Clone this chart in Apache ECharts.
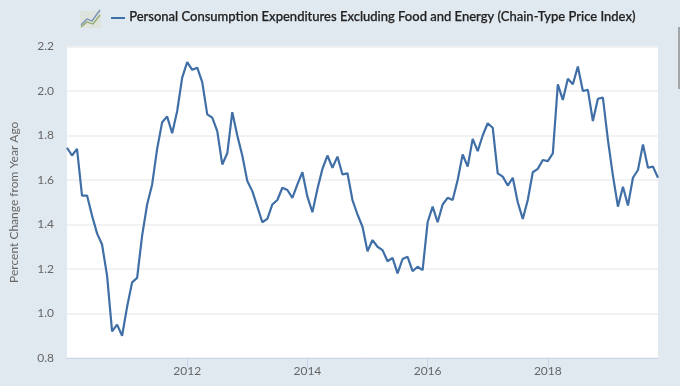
<!DOCTYPE html>
<html><head><meta charset="utf-8">
<style>html,body{margin:0;padding:0;background:#e1e9f0}#c{width:680px;height:386px}</style>
<script src="https://cdn.jsdelivr.net/npm/echarts@6/dist/echarts.min.js"></script>
</head><body><div id="c"></div>
<script>
const seriesName = 'Personal Consumption Expenditures Excluding Food and Energy (Chain-Type Price Index)';
const yAxisTitle = 'Percent Change from Year Ago';
const yearLabels = ['2012','2014','2016','2018'];
const y2010 = [1.745,1.71,1.74,1.53,1.53,1.44,1.36,1.31,1.17,0.92,0.95,0.90];
const y2011 = [1.03,1.14,1.16,1.35,1.49,1.58,1.74,1.86,1.885,1.81,1.91,2.06];
const y2012 = [2.13,2.095,2.105,2.04,1.895,1.88,1.82,1.67,1.72,1.905,1.80,1.71];
const y2013 = [1.595,1.55,1.48,1.41,1.425,1.49,1.51,1.565,1.555,1.52,1.58,1.635];
const y2014 = [1.525,1.455,1.56,1.65,1.71,1.655,1.705,1.625,1.63,1.51,1.445,1.39];
const y2015 = [1.28,1.33,1.30,1.285,1.235,1.25,1.18,1.245,1.255,1.19,1.21,1.195];
const y2016 = [1.41,1.48,1.41,1.49,1.52,1.51,1.60,1.715,1.66,1.785,1.73,1.80];
const y2017 = [1.855,1.835,1.63,1.615,1.575,1.61,1.50,1.425,1.51,1.635,1.65,1.69];
const y2018 = [1.685,1.72,2.03,1.96,2.055,2.03,2.11,2.00,2.005,1.865,1.965,1.97];
const y2019 = [1.78,1.62,1.48,1.57,1.485,1.61,1.645,1.76,1.655,1.66,1.61];
const yearly = [y2010,y2011,y2012,y2013,y2014,y2015,y2016,y2017,y2018,y2019];
const categories = [];
const values = [];
yearly.forEach((arr,i)=>arr.forEach((v,m)=>{
  categories.push((m===0 ? String(2010+i) : (2010+i)+'-'+(m+1)));
  values.push(v);
}));
const showTick = (idx,val)=>yearLabels.includes(val);
const chart = echarts.init(document.getElementById('c'),null,{renderer:'canvas'});
const font = 'Lato, "Open Sans", sans-serif';
chart.setOption({
  animation:false,
  backgroundColor:'#e1e9f0',
  grid:{left:66,right:22,top:46.5,bottom:28,backgroundColor:'#fff',show:true,borderWidth:0},
  xAxis:{type:'category',data:categories,boundaryGap:false,
    axisLine:{show:true,lineStyle:{color:'#ccd6eb',width:1}},
    axisTick:{show:true,interval:showTick,length:10,lineStyle:{color:'#ccd6eb'},inside:false},
    axisLabel:{interval:showTick,color:'#666',fontFamily:font,fontSize:12,margin:7},
    splitLine:{show:false}},
  yAxis:{type:'value',min:0.8,max:2.2,interval:0.2,
    name:yAxisTitle,nameLocation:'middle',nameGap:47,
    nameTextStyle:{color:'#666',fontFamily:font,fontSize:12},
    axisLine:{show:false},axisTick:{show:false},
    axisLabel:{color:'#666',fontFamily:font,fontSize:12,margin:13,formatter:v=>v.toFixed(1)},
    splitLine:{lineStyle:{color:'#eeeeee',width:1.5}}},
  series:[{type:'line',data:values,symbol:'none',smooth:false,
    lineStyle:{color:'#3f6fa6',width:2.2},z:5}],
  graphic:[
    {type:'rect',left:80,top:11,shape:{width:21,height:17},style:{fill:'#dfe3de'}},
    {type:'polyline',shape:{points:[[81,25],[87,19],[92,21],[100,10]]},style:{stroke:'#6f8fb5',fill:'none',lineWidth:1.3}},
    {type:'polyline',shape:{points:[[81,27],[87,22],[93,24],[100,15]]},style:{stroke:'#93a868',fill:'none',lineWidth:1.3}},
    {type:'line',shape:{x1:111,y1:18,x2:125,y2:18},style:{stroke:'#3f6fa6',lineWidth:2}},
    {type:'text',left:129,top:10,style:{text:seriesName,fill:'#222',font:'500 13px '+font,stroke:'#222',lineWidth:0.25}},
    {type:'rect',left:678,top:27,shape:{width:2,height:62},style:{fill:'#a3a6a8'}}
  ]
});
</script></body></html>
